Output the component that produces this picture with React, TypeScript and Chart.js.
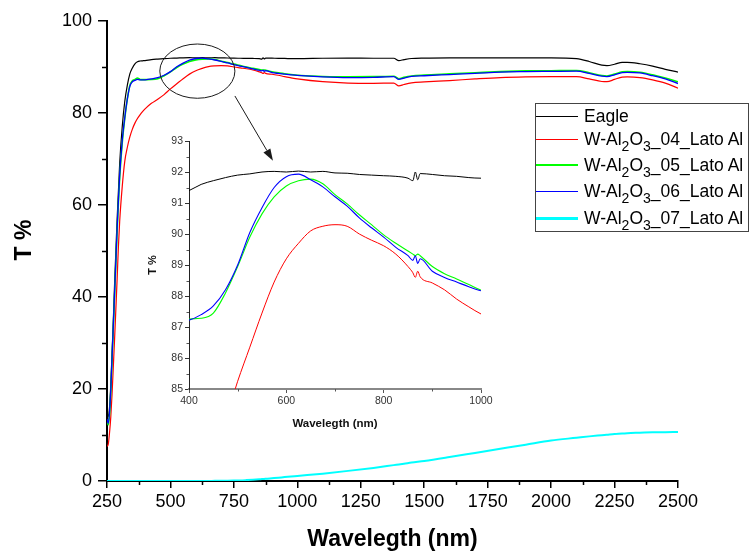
import React, { useEffect, useRef } from "react";
import { Chart, registerables } from "chart.js";

Chart.register(...registerables);

// ---------------- data ----------------
const WAVELENGTH = [
  250, 255, 260, 265, 270, 275, 280, 285, 290, 295,
  300, 310, 320, 330, 340, 350, 360, 370, 380, 390,
  400, 425, 450, 475, 500, 525, 550, 575, 600, 625,
  650, 675, 700, 725, 750, 775, 800, 825, 850, 860,
  865, 870, 875, 900, 925, 950, 975, 1000, 1100, 1200,
  1300, 1380, 1400, 1420, 1450, 1500, 1600, 1700, 1800, 1900,
  2000, 2100, 2150, 2200, 2220, 2250, 2280, 2300, 2350, 2400,
  2450, 2500,
];

const EAGLE = [
  15, 14, 16, 21, 28, 35, 43, 50, 57, 63,
  69, 77, 82.5, 86, 88.5, 89.8, 90.7, 91.15, 91.3, 91.35,
  91.4, 91.6, 91.72, 91.82, 91.9, 91.94, 92.0, 92.02, 92.0, 92.03,
  92.0, 92.02, 91.97, 91.96, 91.92, 91.9, 91.88, 91.86, 91.8, 91.72,
  92.0, 91.75, 91.95, 91.92, 91.88, 91.86, 91.82, 91.8, 91.9, 91.95,
  91.9, 91.9, 91.4, 91.6, 91.85, 91.95, 92.0, 92.0, 92.0, 92.0,
  92.0, 91.8, 91.2, 90.4, 90.3, 90.6, 91.0, 91.0, 90.7, 90.2,
  89.5, 88.9,
];

const W_04 = [
  7.5, 8, 10.5, 14, 19, 25, 31, 37.5, 44, 51,
  56.5, 64, 69.5, 72.5, 74.8, 76.5, 77.8, 78.8, 79.6, 80.3,
  80.9, 82.1, 83.0, 84.0, 85.25, 86.35, 87.45, 88.45, 89.2, 89.7,
  90.1, 90.25, 90.3, 90.25, 90.0, 89.8, 89.62, 89.35, 88.95, 88.75,
  88.6, 88.8, 88.62, 88.42, 88.2, 87.9, 87.65, 87.42, 86.8, 86.5,
  86.45, 86.5, 85.9, 86.2, 86.55, 86.75, 87.05, 87.4, 87.7, 87.85,
  87.9, 87.9, 87.4, 86.85, 86.8, 87.3, 87.8, 87.85, 87.7, 87.2,
  86.5, 85.4,
];

const W_05 = [
  13, 12.2, 14.5, 19.5, 26.5, 33.5, 40.5, 47.5, 54.5, 60.5,
  66, 73.5, 78.8, 83, 86, 87, 87.3, 87.6, 87.3, 87.25,
  87.26, 87.28, 87.45, 88.1, 88.95, 89.9, 90.65, 91.2, 91.55, 91.72,
  91.77, 91.62, 91.27, 90.97, 90.62, 90.3, 89.97, 89.7, 89.45, 89.35,
  89.3, 89.35, 89.3, 88.95, 88.72, 88.55, 88.37, 88.19, 87.95, 87.85,
  87.9, 88.0, 87.45, 87.75, 88.05, 88.25, 88.5, 88.75, 89.0, 89.15,
  89.2, 89.25, 88.75, 88.15, 88.05, 88.45, 88.95, 89.0, 88.85, 88.3,
  87.6, 86.8,
];

const W_06 = [
  13.5, 12.5, 15, 20, 27, 34, 41, 48, 55, 61,
  66.5, 74, 79, 83, 85.8, 86.8, 87.1, 87.3, 87.2, 87.2,
  87.22, 87.4, 87.68, 88.2, 89.0, 90.05, 90.85, 91.5, 91.85, 91.93,
  91.75, 91.52, 91.2, 90.9, 90.52, 90.2, 89.9, 89.57, 89.3, 89.15,
  89.3, 89.05, 89.2, 88.8, 88.6, 88.45, 88.3, 88.17, 87.85, 87.7,
  87.75, 87.9, 87.3, 87.6, 87.95, 88.1, 88.35, 88.6, 88.9, 89.0,
  89.05, 89.1, 88.6, 88.0, 87.9, 88.3, 88.8, 88.85, 88.7, 88.1,
  87.4, 86.4,
];

const W_07 = [
  0, 0, 0, 0, 0, 0, 0, 0, 0, 0,
  0, 0, 0, 0, 0, 0, 0, 0, 0, 0,
  0, 0, 0, 0, 0, 0, 0, 0, 0, 0.01,
  0.02, 0.03, 0.04, 0.06, 0.09, 0.13, 0.2, 0.28, 0.37, 0.41,
  0.43, 0.45, 0.48, 0.6, 0.72, 0.85, 0.97, 1.1, 1.6, 2.2,
  2.85, 3.45, 3.6, 3.75, 4.0, 4.35, 5.2, 6.1, 7.0, 7.9,
  8.8, 9.4, 9.7, 9.95, 10.05, 10.2, 10.3, 10.4, 10.5, 10.6,
  10.62, 10.65,
];

const SERIES_NAMES = [
  "Eagle",
  "W-Al2O3_04_Lato Al",
  "W-Al2O3_05_Lato Al",
  "W-Al2O3_06_Lato Al",
  "W-Al2O3_07_Lato Al",
];
const SERIES_COLORS = ["#000000", "#ff0000", "#00ff00", "#0000ff", "#00ffff"];
const SERIES_VALUES = [EAGLE, W_04, W_05, W_06, W_07];

const MAIN_X_TICKS = [250, 500, 750, 1000, 1250, 1500, 1750, 2000, 2250, 2500];
const MAIN_X_MINOR = [375, 625, 875, 1125, 1375, 1625, 1875, 2125, 2375];
const MAIN_Y_TICKS = [0, 20, 40, 60, 80, 100];
const MAIN_Y_MINOR = [10, 30, 50, 70, 90];

const INSET_X_TICKS = [400, 600, 800, 1000];
const INSET_X_MINOR = [500, 700, 900];
const INSET_Y_TICKS = [85, 86, 87, 88, 89, 90, 91, 92, 93];
const INSET_Y_MINOR = [85.5, 86.5, 87.5, 88.5, 89.5, 90.5, 91.5, 92.5];

const X_TITLE = "Wavelegth (nm)";
const Y_TITLE = "T %";

// zoom marker (in data units of the main chart)
const MARKER_ELLIPSE = { cx: 606, cy: 89.1, rx: 148, ry: 5.9 };
const MARKER_ARROW = { x1: 754, y1: 83.7, x2: 904, y2: 69.6 };

const FONT = "'Liberation Sans', Arial, Helvetica, sans-serif";

// ---------------- plugins ----------------
const minorTicksPlugin = {
  id: "minorTicks",
  afterDraw(chart: any, _args: any, opts: any) {
    const { ctx, chartArea } = chart;
    const xs = chart.scales.x;
    const ys = chart.scales.y;
    ctx.save();
    ctx.strokeStyle = opts.color;
    ctx.lineWidth = opts.width;
    ctx.beginPath();
    for (const v of opts.xValues) {
      const px = Math.round(xs.getPixelForValue(v)) + 0.5;
      ctx.moveTo(px, chartArea.bottom);
      ctx.lineTo(px, chartArea.bottom + opts.xLen);
    }
    for (const v of opts.yValues) {
      const py = Math.round(ys.getPixelForValue(v)) + 0.5;
      ctx.moveTo(chartArea.left, py);
      ctx.lineTo(chartArea.left - opts.yLen, py);
    }
    ctx.stroke();
    ctx.restore();
  },
};

const yTitlePlugin = {
  id: "yTitleFree",
  afterDraw(chart: any, _args: any, opts: any) {
    const { ctx, chartArea } = chart;
    ctx.save();
    ctx.translate(opts.x, (chartArea.top + chartArea.bottom) / 2 + opts.dy);
    ctx.rotate(-Math.PI / 2);
    ctx.font = `bold ${opts.size}px ${FONT}`;
    ctx.fillStyle = "#000";
    ctx.textAlign = "center";
    ctx.textBaseline = "middle";
    ctx.fillText(opts.text, 0, 0);
    ctx.restore();
  },
};

const markerPlugin = {
  id: "zoomMarker",
  afterDatasetsDraw(chart: any, _args: any, opts: any) {
    const { ctx } = chart;
    const xs = chart.scales.x;
    const ys = chart.scales.y;
    const e = opts.ellipse;
    const cx = xs.getPixelForValue(e.cx);
    const cy = ys.getPixelForValue(e.cy);
    const rx = Math.abs(xs.getPixelForValue(e.cx + e.rx) - cx);
    const ry = Math.abs(ys.getPixelForValue(e.cy + e.ry) - cy);
    ctx.save();
    ctx.strokeStyle = "#1a1a1a";
    ctx.fillStyle = "#1a1a1a";
    ctx.lineWidth = 1;
    ctx.beginPath();
    ctx.ellipse(cx, cy, rx, ry, 0, 0, Math.PI * 2);
    ctx.stroke();
    const a = opts.arrow;
    const x1 = xs.getPixelForValue(a.x1);
    const y1 = ys.getPixelForValue(a.y1);
    const x2 = xs.getPixelForValue(a.x2);
    const y2 = ys.getPixelForValue(a.y2);
    const ang = Math.atan2(y2 - y1, x2 - x1);
    const hl = 12;
    const hw = 4;
    const bx = x2 - hl * Math.cos(ang);
    const by = y2 - hl * Math.sin(ang);
    ctx.beginPath();
    ctx.moveTo(x1, y1);
    ctx.lineTo(bx, by);
    ctx.stroke();
    ctx.beginPath();
    ctx.moveTo(x2, y2);
    ctx.lineTo(bx + hw * Math.sin(ang), by - hw * Math.cos(ang));
    ctx.lineTo(bx - hw * Math.sin(ang), by + hw * Math.cos(ang));
    ctx.closePath();
    ctx.fill();
    ctx.restore();
  },
};

function seriesPoints(values: number[]) {
  return WAVELENGTH.map((w, i) => ({ x: w, y: values[i] }));
}

const plainNumber = (v: any) => String(v);

function renderLabel(name: string) {
  const m = name.match(/^(.*?Al)(2)(O)(3)(.*)$/);
  if (!m) return <span>{name}</span>;
  const sub = { fontSize: 14, verticalAlign: "-5.5px", lineHeight: "1" } as const;
  return (
    <span>
      {m[1]}
      <span style={sub}>{m[2]}</span>
      {m[3]}
      <span style={sub}>{m[4]}</span>
      {m[5]}
    </span>
  );
}

export default function App() {
  const mainRef = useRef<HTMLCanvasElement | null>(null);
  const insetRef = useRef<HTMLCanvasElement | null>(null);

  useEffect(() => {
    Chart.defaults.font.family = FONT;
    const widths = [1.2, 1.2, 1.6, 1.3, 2];
    const orders = [4, 3, 2, 1, 0];

    const mainChart = new Chart(mainRef.current as HTMLCanvasElement, {
      type: "line",
      data: {
        datasets: SERIES_NAMES.map((name, i) => ({
          label: name,
          data: seriesPoints(SERIES_VALUES[i]),
          borderColor: SERIES_COLORS[i],
          backgroundColor: SERIES_COLORS[i],
          borderWidth: widths[i],
          pointRadius: 0,
          cubicInterpolationMode: "monotone",
          order: orders[i],
        })),
      },
      options: {
        animation: false,
        responsive: false,
        events: [],
        layout: { padding: { left: 0, top: 21, right: 72, bottom: 0 } },
        plugins: {
          legend: { display: false },
          tooltip: { enabled: false },
          minorTicks: { xValues: MAIN_X_MINOR, yValues: MAIN_Y_MINOR, xLen: 4, yLen: 5, color: "#000", width: 1.5 },
          yTitleFree: { text: Y_TITLE, x: 25, dy: -11, size: 23 },
          zoomMarker: { ellipse: MARKER_ELLIPSE, arrow: MARKER_ARROW },
        } as any,
        scales: {
          x: {
            type: "linear",
            min: 250,
            max: 2500,
            afterBuildTicks: (s: any) => {
              s.ticks = MAIN_X_TICKS.map((v) => ({ value: v }));
            },
            afterFit: (s: any) => {
              s.height = 72;
            },
            grid: { display: true, drawOnChartArea: false, drawTicks: true, tickLength: 7, color: "#000", lineWidth: 1.5 },
            border: { display: true, color: "#000", width: 2 },
            ticks: { color: "#000", font: { size: 18 }, padding: 3, maxRotation: 0, autoSkip: false, callback: plainNumber },
            title: { display: true, text: X_TITLE, color: "#000", font: { size: 23, weight: "bold", lineHeight: 1.2 }, padding: 0 },
          },
          y: {
            type: "linear",
            min: 0,
            max: 100,
            afterBuildTicks: (s: any) => {
              s.ticks = MAIN_Y_TICKS.map((v) => ({ value: v }));
            },
            afterFit: (s: any) => {
              s.width = 107;
            },
            grid: { display: true, drawOnChartArea: false, drawTicks: true, tickLength: 9, color: "#000", lineWidth: 1.5 },
            border: { display: true, color: "#000", width: 2 },
            ticks: { color: "#000", font: { size: 18 }, padding: 6, autoSkip: false, callback: plainNumber },
          },
        },
      },
      plugins: [minorTicksPlugin, yTitlePlugin, markerPlugin],
    } as any);

    const insetWidths = [1, 1, 1.1, 1.1];
    const insetChart = new Chart(insetRef.current as HTMLCanvasElement, {
      type: "line",
      data: {
        datasets: SERIES_NAMES.slice(0, 4).map((name, i) => ({
          label: name,
          data: seriesPoints(SERIES_VALUES[i]),
          borderColor: SERIES_COLORS[i],
          backgroundColor: SERIES_COLORS[i],
          borderWidth: insetWidths[i],
          pointRadius: 0,
          cubicInterpolationMode: "monotone",
          order: orders[i],
        })),
      },
      options: {
        animation: false,
        responsive: false,
        events: [],
        layout: { padding: { left: 0, top: 10, right: 14, bottom: 0 } },
        plugins: {
          legend: { display: false },
          tooltip: { enabled: false },
          minorTicks: { xValues: INSET_X_MINOR, yValues: INSET_Y_MINOR, xLen: 2.5, yLen: 2.5, color: "#555", width: 1 },
        } as any,
        scales: {
          x: {
            type: "linear",
            min: 400,
            max: 1000,
            afterBuildTicks: (s: any) => {
              s.ticks = INSET_X_TICKS.map((v) => ({ value: v }));
            },
            afterFit: (s: any) => {
              s.height = 51;
            },
            grid: { display: true, drawOnChartArea: false, drawTicks: true, tickLength: 4, color: "#555", lineWidth: 1 },
            border: { display: true, color: "#888", width: 2 },
            ticks: { color: "#333", font: { size: 10.5 }, padding: 2, maxRotation: 0, autoSkip: false, callback: plainNumber },
            title: { display: true, text: X_TITLE, color: "#111", font: { size: 11.5, weight: "bold", lineHeight: 1.2 }, padding: { top: 0, bottom: 9 } },
          },
          y: {
            type: "linear",
            min: 85,
            max: 93,
            afterBuildTicks: (s: any) => {
              s.ticks = INSET_Y_TICKS.map((v) => ({ value: v }));
            },
            afterFit: (s: any) => {
              s.width = 49;
            },
            grid: { display: true, drawOnChartArea: false, drawTicks: true, tickLength: 4, color: "#333", lineWidth: 1 },
            border: { display: true, color: "#222", width: 1 },
            ticks: { color: "#333", font: { size: 10.5 }, padding: 2, autoSkip: false, callback: plainNumber },
            title: { display: true, text: Y_TITLE, color: "#111", font: { size: 11, weight: "bold", lineHeight: 1.2 }, padding: { top: 6, bottom: 0 } },
          },
        },
      },
      plugins: [minorTicksPlugin],
    } as any);

    return () => {
      mainChart.destroy();
      insetChart.destroy();
    };
  }, []);

  const rowCenters = [12, 35, 61, 87, 114];
  const lineHeights = [1, 1, 2, 1, 3];

  return (
    <div
      style={{
        position: "fixed",
        left: 0,
        top: 0,
        width: 750,
        height: 553,
        overflow: "hidden",
        background: "#fff",
        fontFamily: FONT,
      }}
    >
      <canvas ref={mainRef} width={750} height={553} style={{ position: "absolute", left: 0, top: 0, width: 750, height: 553 }} />
      <canvas ref={insetRef} width={355} height={309} style={{ position: "absolute", left: 140, top: 131, width: 355, height: 309 }} />
      <div
        style={{
          position: "absolute",
          left: 535,
          top: 103,
          width: 212,
          height: 127,
          border: "1px solid #444",
          boxSizing: "content-box",
          background: "#fff",
        }}
      >
        {SERIES_NAMES.map((name, i) => (
          <React.Fragment key={name}>
            <div
              style={{
                position: "absolute",
                left: 0,
                top: rowCenters[i] - Math.floor(lineHeights[i] / 2),
                width: 42,
                height: lineHeights[i],
                background: SERIES_COLORS[i],
              }}
            />
            <div
              style={{
                position: "absolute",
                left: 48,
                top: rowCenters[i] - 9.8,
                fontSize: 17.5,
                lineHeight: "20px",
                whiteSpace: "nowrap",
                color: "#000",
              }}
            >
              {renderLabel(name)}
            </div>
          </React.Fragment>
        ))}
      </div>
    </div>
  );
}
